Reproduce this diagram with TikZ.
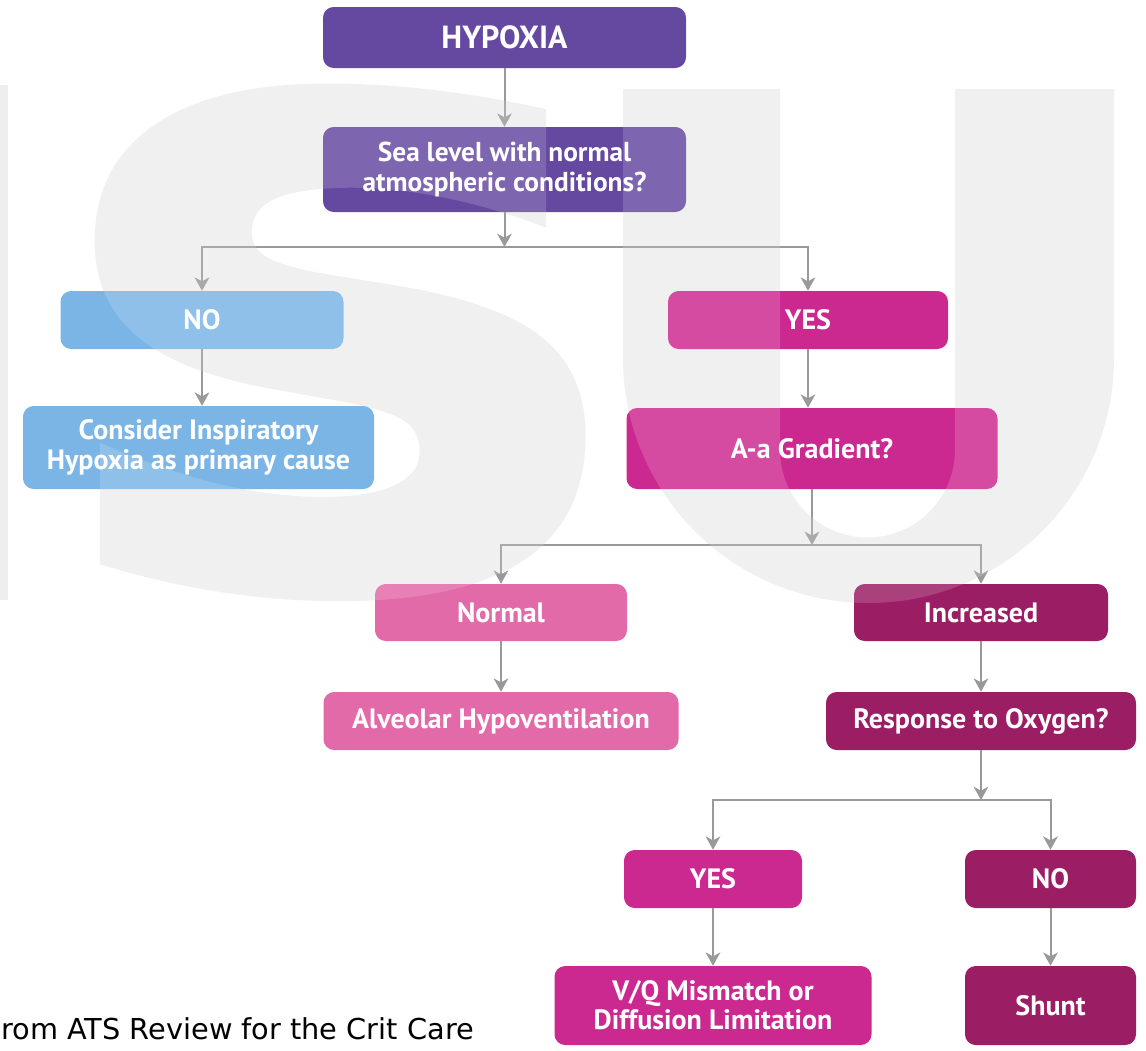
\documentclass[tikz,border=0pt]{standalone}
\usepackage{fontspec}
\setmainfont{PT Sans}
\newfontfamily\boxfont{PT Sans}
\newfontfamily\notefont{DejaVu Sans}
\newfontfamily\wmfont[FakeBold=2]{DejaVu Sans}
\usetikzlibrary{arrows.meta}
\definecolor{cpurple}{HTML}{6548A0}
\definecolor{cblue}{HTML}{7AB5E6}
\definecolor{cmag}{HTML}{CC2990}
\definecolor{cpink}{HTML}{E36AA8}
\definecolor{cdark}{HTML}{9B1D63}
\definecolor{cwm}{HTML}{EEEEEE}
\definecolor{carrow}{HTML}{999999}
\tikzset{
  fbox/.style={rounded corners=8pt, inner sep=0pt, align=center, text=white,
    font=\boxfont\bfseries\fontsize{21}{22}\selectfont},
  arr/.style={draw=carrow, line width=1.5pt,
    -{Stealth[length=10pt, width=11pt, inset=3pt]}},
  wmshape/.style={fill=cwm},
}
\newcommand\upx{0.75pt}
\newcommand\wmS{\scalebox{1.237}[1]{\wmfont\bfseries\fontsize{500}{500}\selectfont S}}
\begin{document}
\begin{tikzpicture}[x=0.75pt,y=-0.75pt]
\useasboundingbox (0,0) rectangle (1146,1050);
% watermark (behind)
\fill[wmshape] (0,85) rectangle (8,600);
\node[anchor=base west, inner sep=0pt, text=cwm] (wmS) at (43.5,585) {\wmS};
\fill[wmshape] (623,89) -- (623,358) arc[start angle=180, end angle=0, x radius=245.5, y radius=245]
  -- (1114,89) -- (955,89) -- (955,450) arc[start angle=0, end angle=180, radius=87.5]
  -- (780,89) -- cycle;
% boxes
\node[fbox, fill=cpurple, minimum width=363*\upx, minimum height=61*\upx,
  font=\boxfont\bfseries\fontsize{24}{26}\selectfont] (hyp) at (504.5,37.5) {HYPOXIA};
\node[fbox, fill=cpurple, minimum width=363*\upx, minimum height=85*\upx,
  font=\boxfont\bfseries\fontsize{20.5}{22}\selectfont] (sea) at (504.5,169.5) {Sea level with normal\\atmospheric conditions?};
\node[fbox, fill=cblue, minimum width=283*\upx, minimum height=58*\upx] (no) at (202,320) {NO};
\node[fbox, fill=cblue, minimum width=351*\upx, minimum height=83*\upx] (cons) at (198.5,447.5) {Consider Inspiratory\\Hypoxia as primary cause};
\node[fbox, fill=cmag, minimum width=280*\upx, minimum height=58*\upx] (yes) at (808,320) {YES};
\node[fbox, fill=cmag, minimum width=371*\upx, minimum height=81*\upx] (grad) at (812,448.5) {A-a Gradient?};
\node[fbox, fill=cpink, minimum width=252*\upx, minimum height=57*\upx] (norm) at (501,612.5) {Normal};
\node[fbox, fill=cdark, minimum width=254*\upx, minimum height=57*\upx] (incr) at (981,612.5) {Increased};
\node[fbox, fill=cpink, minimum width=355*\upx, minimum height=58*\upx] (alv) at (501,721) {Alveolar Hypoventilation};
\node[fbox, fill=cdark, minimum width=310*\upx, minimum height=58*\upx] (resp) at (981,721) {Response to Oxygen?};
\node[fbox, fill=cmag, minimum width=178*\upx, minimum height=58*\upx] (yes2) at (713,879) {YES};
\node[fbox, fill=cdark, minimum width=171*\upx, minimum height=58*\upx] (no2) at (1050.5,879) {NO};
\node[fbox, fill=cmag, minimum width=317*\upx, minimum height=79*\upx] (vq) at (713,1005.5) {V/Q Mismatch or\\Diffusion Limitation};
\node[fbox, fill=cdark, minimum width=171*\upx, minimum height=79*\upx] (shunt) at (1050.5,1005.5) {Shunt};
% junctions
\coordinate (j1) at (504.5,247);
\coordinate (j2) at (812,545);
\coordinate (j3) at (981,800);
% connectors
\draw[arr] (hyp) -- (sea);
\draw[arr] (sea) -- (j1);
\draw[arr] (j1) -| (no);
\draw[arr] (j1) -| (yes);
\draw[arr] (no) -- (no |- cons.north);
\draw[arr] (yes) -- (yes |- grad.north);
\draw[arr] (grad) -- (j2);
\draw[arr] (j2) -| (norm);
\draw[arr] (j2) -| (incr);
\draw[arr] (norm) -- (alv);
\draw[arr] (incr) -- (resp);
\draw[arr] (resp) -- (j3);
\draw[arr] (j3) -| (yes2);
\draw[arr] (j3) -| (no2);
\draw[arr] (yes2) -- (vq);
\draw[arr] (no2) -- (shunt);
% watermark overlay (lightens what lies under it)
\begin{scope}[transparency group, opacity=0.16]
\node[anchor=base west, inner sep=0pt, text=white] (wmS2) at (43.5,585) {\wmS};
\fill[white] (623,89) -- (623,358) arc[start angle=180, end angle=0, x radius=245.5, y radius=245]
  -- (1114,89) -- (955,89) -- (955,450) arc[start angle=0, end angle=180, radius=87.5]
  -- (780,89) -- cycle;
\end{scope}
% note
\node[anchor=base west, inner sep=0pt, font=\notefont\fontsize{21.6}{24}\selectfont] (note) at (1,1039) {rom ATS Review for the Crit Care};
\end{tikzpicture}
\end{document}
